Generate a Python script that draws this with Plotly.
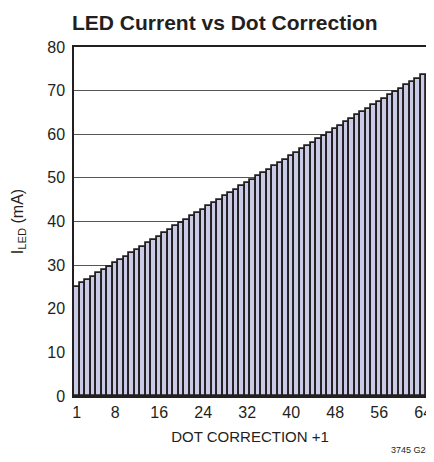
import plotly.graph_objects as go

dot_correction = list(range(1, 65))
i_led_ma = [25.0, 25.8, 26.5, 27.3, 28.1, 28.8, 29.6, 30.4, 31.2, 31.9, 32.7, 33.5, 34.2, 35.0, 35.8, 36.5,
            37.3, 38.1, 38.9, 39.6, 40.4, 41.2, 41.9, 42.7, 43.5, 44.2, 45.0, 45.8, 46.6, 47.3, 48.1, 48.9,
            49.6, 50.4, 51.2, 51.9, 52.7, 53.5, 54.2, 55.0, 55.8, 56.6, 57.3, 58.1, 58.9, 59.6, 60.4, 61.2,
            61.9, 62.7, 63.5, 64.3, 65.0, 65.8, 66.6, 67.3, 68.1, 68.9, 69.6, 70.4, 71.2, 71.9, 72.7, 73.5]
x_ticks = [1, 8, 16, 24, 32, 40, 48, 56, 64]
y_ticks = [0, 10, 20, 30, 40, 50, 60, 70, 80]

INK = "#231f20"
FONT = "Liberation Sans, Arial, sans-serif"

# the page body has an 8px default margin, so the figure is drawn 8px smaller and offset
W, H = 426, 454
L, R, T, B = 66, 8, 39, 66

fig = go.Figure(go.Bar(
    x=dot_correction, y=i_led_ma,
    marker=dict(color="#c9cbe6", line=dict(color=INK, width=1.8)),
    width=1.0,
))

fig.update_layout(
    width=W, height=H,
    margin=dict(l=L, r=R, t=T, b=B),
    plot_bgcolor="white", paper_bgcolor="white",
    bargap=0, showlegend=False,
    font=dict(family=FONT, color=INK, size=16),
    title=dict(text="<b>LED Current vs Dot Correction</b>", x=64 / W, xref="container", xanchor="left",
               y=1 - 15 / H, yref="container", yanchor="middle",
               font=dict(family=FONT, size=21, color=INK)),
)
fig.update_xaxes(range=[0.5, 64.5], tickmode="array", tickvals=x_ticks, ticks="", automargin=False,
                 showgrid=False, showline=True, linecolor=INK, linewidth=1.5, mirror=True,
                 title=dict(text="DOT CORRECTION +1", font=dict(size=15), standoff=12),
                 tickfont=dict(size=16), ticklabelstandoff=1)
fig.update_yaxes(range=[0, 80], tickmode="array", tickvals=y_ticks, ticks="", automargin=False,
                 showgrid=True, gridcolor="#555555", gridwidth=1, zeroline=False,
                 showline=True, linecolor=INK, linewidth=1.5, mirror=True,
                 title=dict(text="I<sub>LED</sub> (mA)", font=dict(size=16), standoff=20),
                 tickfont=dict(size=16), ticklabelstandoff=4)
plot_w = W - L - R
plot_h = H - T - B
fig.add_annotation(text="3745 G28", x=(W - 1 - L) / plot_w, y=-(442 - 388) / plot_h,
                   xref="paper", yref="paper", xanchor="right", yanchor="middle",
                   showarrow=False, font=dict(size=9))

fig.write_html("out.html")
